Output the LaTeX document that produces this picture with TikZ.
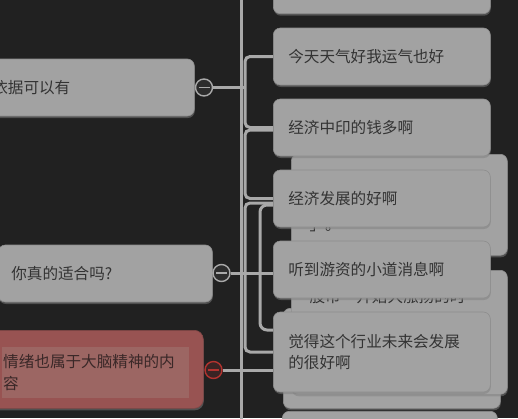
\documentclass[tikz,border=0pt]{standalone}
\usepackage{fontspec}
\usepackage{tikz}
\usetikzlibrary{positioning,shadows}
\newfontfamily\cjkfont{Noto Sans CJK SC}
\definecolor{bgdark}{HTML}{212121}
\definecolor{boxgray}{HTML}{A2A2A2}
\definecolor{boxedge}{HTML}{8E8E8E}
\definecolor{linegray}{HTML}{A9A9A9}
\definecolor{txtdark}{HTML}{333333}
\definecolor{ringfill}{HTML}{2C2C2C}
\definecolor{redbox}{HTML}{985352}
\definecolor{redhilite}{HTML}{9C6663}
\definecolor{redring}{HTML}{B3332F}
\definecolor{redfill}{HTML}{3A2424}
\definecolor{redtext}{HTML}{3A2828}

\begin{document}
\begin{tikzpicture}[x=1pt, y=-1pt,
  every node/.style={font=\cjkfont\fontsize{15.6}{21.5}\selectfont, text=txtdark},
  branch/.style={draw=linegray, line width=3pt},
  topicbox/.style={
    rounded corners=7pt,
    fill=boxgray, draw=boxedge, line width=.6pt,
    text width=187pt, inner xsep=15pt,
    minimum height=57pt,
    align=left, anchor=west,
    drop shadow={shadow xshift=.5pt, shadow yshift=-2pt, opacity=.5}
  },
  backbox/.style={
    rounded corners=7pt,
    fill=boxgray, draw=boxedge, line width=.6pt,
    inner sep=0pt, anchor=north west,
    drop shadow={shadow xshift=.5pt, shadow yshift=-2pt, opacity=.5}
  },
  foldmark/.style={
    circle, draw=linegray, line width=1.4pt, fill=ringfill,
    minimum size=17pt, inner sep=0pt,
    path picture={\draw[linegray, line width=1.4pt]
      ([xshift=3pt]path picture bounding box.west) -- ([xshift=-3pt]path picture bounding box.east);}
  },
  redmark/.style={
    circle, draw=redring, line width=1.4pt, fill=redfill,
    minimum size=17pt, inner sep=0pt,
    path picture={\draw[redring, line width=1.4pt]
      ([xshift=3pt]path picture bounding box.west) -- ([xshift=-3pt]path picture bounding box.east);}
  }
]
  \useasboundingbox (0,0) rectangle (518,418);
  \fill[bgdark] (0,0) rectangle (518,418);
  \clip (0,0) rectangle (518,418);

  % Karten im Hintergrund
  \node[backbox, minimum width=216pt, minimum height=101pt] (back1) at (291,154) {};
  \node[anchor=west] (back1txt) at (306,227) {」。};
  \node[backbox, minimum width=217pt, minimum height=100pt] (back3) at (283,308) {};
  \node[backbox, minimum width=216pt, minimum height=124pt] (back2) at (291,270) {};
  \node[anchor=west] (back2txt) at (306,297) {股市一开始大涨扬的时};
  \node[backbox, minimum width=215pt, minimum height=60pt] (back4) at (282,411) {};

  % Rechte Spalte
  \node[topicbox, anchor=south west] (box1) at (273,14) {};
  \node[topicbox] (box2) at (273,56.5) {今天天气好我运气也好};
  \node[topicbox] (box3) at (273,127.5) {经济中印的钱多啊};
  \node[topicbox] (box4) at (273,198.5) {经济发展的好啊};
  \node[topicbox] (box5) at (273,269.5) {听到游资的小道消息啊};
  \node[topicbox, minimum height=80pt] (box6) at (273,352) {觉得这个行业未来会发展\\的很好啊};

  % Linke Spalte
  \node[topicbox, text width=189pt, inner xsep=13pt] (left1) at (-21,87.5) {依据可以有};
  \node[topicbox, text width=188pt, inner xsep=13pt] (left2) at (-2,273.5) {你真的适合吗?};
  \node[backbox, fill=redbox, draw=redbox!85!black, rounded corners=9pt,
        minimum width=213pt, minimum height=78pt] (left3) at (-10,330) {};
  \node[anchor=north west, fill=redhilite, text=redtext, text width=185pt,
        inner xsep=1pt, inner ysep=2.5pt, minimum height=51pt, align=left,
        font=\cjkfont\fontsize{15.6}{22}\selectfont] (left3txt) at (2,347) {情绪也属于大脑精神的内\\容};

  % Einklappen
  \node[foldmark] (fold1) at (204,87.5) {};
  \node[foldmark] (fold2) at (221.5,273) {};
  \node[redmark] (fold3) at (213.5,370) {};

  % Stamm
  \coordinate (trunktop) at (241,-5);
  \coordinate (trunkbot) at (241,425);
  \draw[branch] (trunktop) -- (trunkbot);

  % Klammern
  \coordinate (ja) at (245,87.5);
  \coordinate (jb) at (245,164);
  \coordinate (jc) at (260,268);
  \coordinate (jd) at (245,277);
  \draw[branch, rounded corners=5pt] (box2.west) -| (ja) |- (box3.west);
  \draw[branch] (fold1.east) -- (ja);
  \draw[branch, rounded corners=5pt] ([yshift=-2.5pt]box3.west) -| (jb) |- (box4.west);
  \draw[branch, rounded corners=5pt] ([yshift=-4.5pt]box4.west) -| (jd) |- (box6.west);
  \draw[branch, rounded corners=7pt] ([yshift=-6.5pt]box4.west) -| (jc) |- ([yshift=22pt]box6.west);
  \draw[branch] (fold2.east) -- (fold2.east -| box5.west);
  \draw[branch] (fold3.east) -- (fold3.east -| box6.west);
\end{tikzpicture}
\end{document}
